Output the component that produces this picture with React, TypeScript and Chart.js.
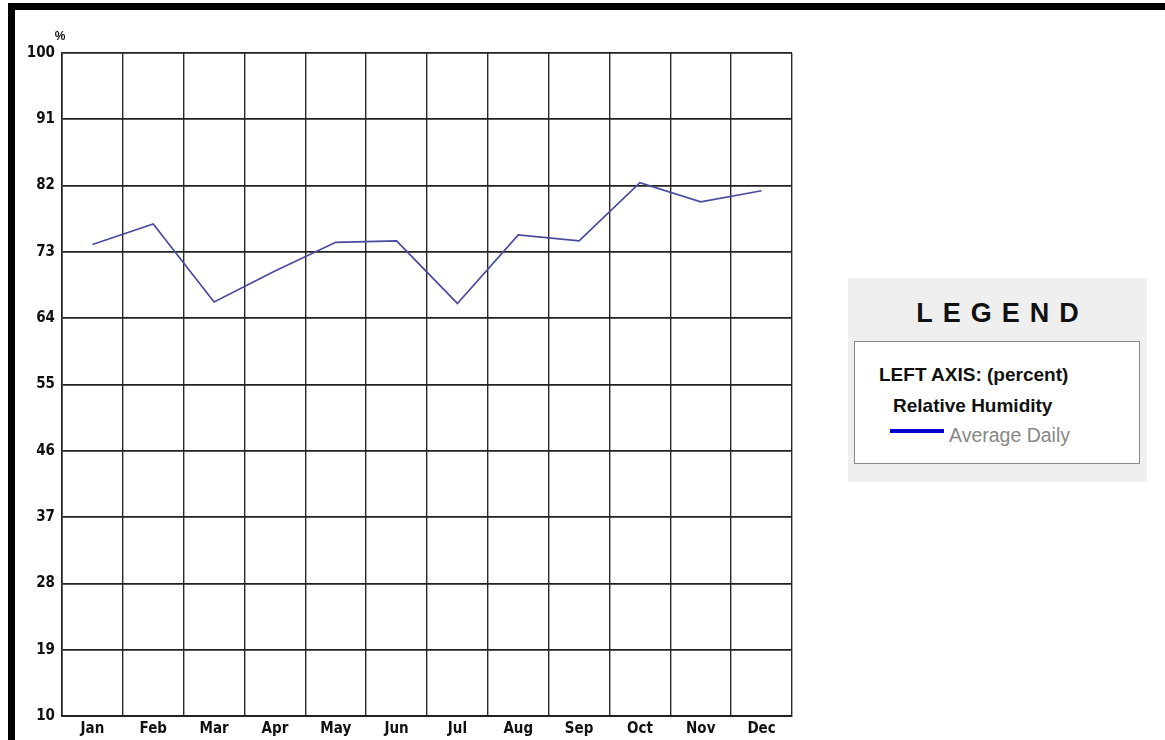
import React, { useEffect, useRef } from "react";
import { Chart, registerables } from "chart.js";

Chart.register(...registerables);

const months = ["Jan", "Feb", "Mar", "Apr", "May", "Jun", "Jul", "Aug", "Sep", "Oct", "Nov", "Dec"];
const humidity = [74.0, 76.8, 66.2, 70.4, 74.3, 74.5, 66.0, 75.3, 74.5, 82.4, 79.8, 81.3];
const yMin = 10;
const yMax = 100;
const yStep = 9;

const tickFont = { family: "'Liberation Sans Narrow', 'DejaVu Sans Condensed', sans-serif", weight: "bold" as const, size: 15 };

export default function App() {
  const ref = useRef<HTMLCanvasElement | null>(null);

  useEffect(() => {
    if (!ref.current) return;
    const chart = new Chart(ref.current, {
      type: "line",
      data: {
        labels: months,
        datasets: [
          {
            label: "Average Daily",
            data: humidity,
            borderColor: "#4b4b9e",
            borderWidth: 1.7,
            pointRadius: 0,
            tension: 0,
            fill: false,
          },
        ],
      },
      options: {
        animation: false,
        responsive: false,
        maintainAspectRatio: false,
        layout: { padding: { left: 0, right: 8, top: 53, bottom: 0 } },
        plugins: { legend: { display: false }, tooltip: { enabled: false } },
        scales: {
          x: {
            type: "category",
            offset: true,
            grid: { offset: true, color: "#2a2a2a", lineWidth: 1.4, drawTicks: false },
            border: { color: "#222", width: 2 },
            ticks: { color: "#111", font: tickFont, padding: 4, maxRotation: 0 },
            afterFit: (s: any) => { s.height = 24; },
          },
          y: {
            min: yMin,
            max: yMax,
            grid: { color: "#222", lineWidth: 1.8, drawTicks: false },
            border: { color: "#222", width: 1.6 },
            ticks: { stepSize: yStep, color: "#111", font: tickFont, padding: 7 },
            afterFit: (s: any) => { s.width = 62; },
          },
        },
      },
    });
    return () => chart.destroy();
  }, []);

  const legendFont = "'Liberation Sans', Arial, sans-serif";

  return (
    <div style={{ position: "fixed", left: 0, top: 0, width: 1165, height: 740, overflow: "hidden", background: "#fff" }}>
      <div style={{ position: "absolute", left: 8, top: 3, width: 1180, height: 734, border: "7px solid #000", boxSizing: "content-box" }} />
      <canvas ref={ref} width={800} height={740} style={{ position: "absolute", left: 0, top: 0, width: 800, height: 740 }} />
      <div style={{ position: "absolute", left: 52, top: 29, width: 16, textAlign: "center", font: "bold 12px 'Liberation Sans Narrow', sans-serif", color: "#111" }}>%</div>
      <div style={{ position: "absolute", left: 848, top: 278, width: 299, height: 204, background: "#efefef" }}>
        <div style={{ position: "absolute", left: 0, top: 20, width: 299, textAlign: "center", font: `bold 27px ${legendFont}`, letterSpacing: "10px", paddingLeft: 10, boxSizing: "border-box", color: "#111" }}>LEGEND</div>
        <div style={{ position: "absolute", left: 6, top: 63, width: 284, height: 121, background: "#fff", border: "1px solid #888" }}>
          <div style={{ position: "absolute", left: 24, top: 22, font: `bold 19px ${legendFont}`, color: "#111", whiteSpace: "nowrap" }}>LEFT AXIS: (percent)</div>
          <div style={{ position: "absolute", left: 38, top: 53, font: `bold 19px ${legendFont}`, color: "#111", whiteSpace: "nowrap" }}>Relative Humidity</div>
          <div style={{ position: "absolute", left: 35, top: 87, width: 54, height: 4, background: "#0000cc" }} />
          <div style={{ position: "absolute", left: 94, top: 82, font: `19.5px ${legendFont}`, color: "#888", whiteSpace: "nowrap" }}>Average Daily</div>
        </div>
      </div>
    </div>
  );
}
